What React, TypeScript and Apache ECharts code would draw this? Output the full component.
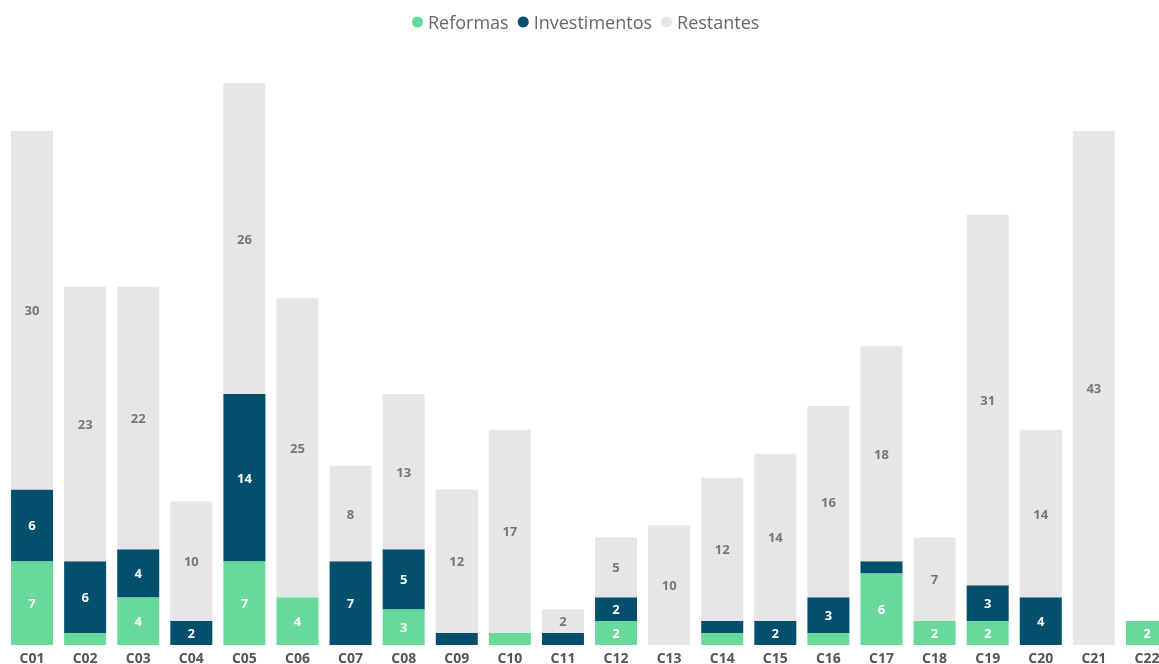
import React, { useEffect, useRef } from "react";
import * as echarts from "echarts";

const categories = ["C01","C02","C03","C04","C05","C06","C07","C08","C09","C10","C11","C12","C13","C14","C15","C16","C17","C18","C19","C20","C21","C22"];
const reformas = [7,1,4,0,7,4,0,3,0,1,0,2,0,1,0,1,6,2,2,0,0,2];
const investimentos = [6,6,4,2,14,0,7,5,1,0,1,2,0,1,2,3,1,0,3,4,0,0];
const restantes = [30,23,22,10,26,25,8,13,12,17,2,5,10,12,14,16,18,7,31,14,43,0];

const FONT = "'Open Sans', 'Noto Sans', sans-serif";

export default function App() {
  const ref = useRef<HTMLDivElement>(null);
  useEffect(() => {
    if (!ref.current) return;
    const chart = echarts.init(ref.current, undefined, { renderer: "svg" });
    const lbl = (color: string) => ({
      show: true,
      position: "inside",
      color,
      fontWeight: "bold",
      fontSize: 13,
      fontFamily: FONT,
      formatter: (p: any) => (p.value >= 2 ? String(p.value) : ""),
    });
    const mk = (name: string, data: number[], color: string, labelColor: string) => ({
      name,
      type: "bar",
      stack: "total",
      data,
      barWidth: 42,
      itemStyle: { color },
      label: lbl(labelColor),
      emphasis: { disabled: true },
    });
    chart.setOption({
      animation: false,
      legend: {
        top: 8,
        left: 407,
        icon: "circle",
        itemWidth: 11,
        itemHeight: 11,
        itemGap: 9,
        textStyle: { fontSize: 18, color: "#666", fontFamily: FONT },
        data: ["Reformas", "Investimentos", "Restantes"],
      },
      grid: { left: 5.5, width: 1168, top: 47.3, height: 597.7, outerBoundsMode: "none", containLabel: false },
      xAxis: {
        type: "category",
        data: categories,
        axisLine: { show: false },
        axisTick: { show: false },
        axisLabel: { color: "#555", fontWeight: "bold", fontSize: 14, fontFamily: FONT, margin: 5, interval: 0 },
      },
      yAxis: {
        type: "value",
        min: 0,
        max: 50,
        show: false,
        splitLine: { show: false },
      },
      series: [
        mk("Reformas", reformas, "#66D99B", "#fff"),
        mk("Investimentos", investimentos, "#024F6E", "#fff"),
        mk("Restantes", restantes, "#E6E6E6", "#777"),
      ],
    });
    return () => chart.dispose();
  }, []);
  return (
    <div
      ref={ref}
      style={{ position: "fixed", left: 0, top: 0, width: 1159, height: 664, overflow: "hidden" }}
    />
  );
}
